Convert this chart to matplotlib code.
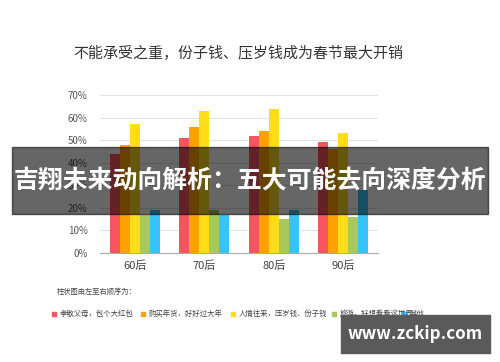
import matplotlib
matplotlib.use("Agg")
import matplotlib.pyplot as plt
from matplotlib.patches import Rectangle
import numpy as np

plt.rcParams['font.family'] = ['Noto Sans CJK SC', 'DejaVu Sans']

groups = ['60后', '70后', '80后', '90后']
series_names = ['孝敬父母，包个大红包', '购买年货，好好过大年', '人情往来，压岁钱、份子钱',
                '旅游，好想看看这世界', '其他']
values = {
    '孝敬父母，包个大红包': [44, 51, 52, 49],
    '购买年货，好好过大年': [48, 56, 54, 46],
    '人情往来，压岁钱、份子钱': [57, 63, 64, 53],
    '旅游，好想看看这世界': [17, 19, 15, 16],
    '其他': [19, 17, 19, 28],
}
colors = ['#F5555F', '#FFA200', '#FFDD1B', '#A8C85A', '#38C3F8']
yticks = [0, 10, 20, 30, 40, 50, 60, 70]

fig = plt.figure(figsize=(5, 3.62), dpi=100)
ax = fig.add_axes([0.2, 0.301, 0.556, 0.4365])

x = np.arange(len(groups))
w = 0.144
for i, name in enumerate(series_names):
    ax.bar(x + (i - 2) * w, values[name], width=w, color=colors[i], zorder=3)

ax.set_xlim(-0.5, 3.5)
ax.set_ylim(0, 70)
ax.set_yticks(yticks)
ax.set_yticklabels([f'{v}%' for v in yticks], fontsize=7, color='#555555')
ax.set_xticks(x)
ax.set_xticklabels(groups, fontsize=8, color='#444444')
ax.tick_params(axis='both', length=0)
ax.tick_params(axis='y', pad=9)
ax.tick_params(axis='x', pad=5)
ax.grid(axis='y', color='#e2e2e2', linewidth=0.8, zorder=0)
for s in ['top', 'right', 'left']:
    ax.spines[s].set_visible(False)
ax.spines['bottom'].set_color('#aaaaaa')
ax.spines['bottom'].set_zorder(4)

fig.text(73/500, 1 - 53/362, '不能承受之重，份子钱、压岁钱成为春节最大开销', fontsize=10.8,
         color='#333333', va='center', ha='left')

fig.text(57/500, 1 - 292/362, '柱状图由左至右顺序为：', fontsize=5.2, color='#444444',
         va='center', ha='left')

leg_x = [52, 141, 231, 332, 402]
for i, name in enumerate(series_names):
    fig.patches.append(Rectangle((leg_x[i] / 500, 1 - 316/362), 4/500, 4/362,
                                 transform=fig.transFigure, color=colors[i]))
    fig.text((leg_x[i] + 8) / 500, 1 - 314/362, name, fontsize=5.3, color='#444444',
             va='center', ha='left')

# overlay banner
fig.patches.append(Rectangle((12/500, 1 - 214/362), 476/500, 67/362,
                             transform=fig.transFigure, color='#000000', alpha=0.6, zorder=10))
fig.text(250/500, 1 - 181/362, '吉翔未来动向解析：五大可能去向深度分析', fontsize=17.9,
         color='white', fontweight='bold', va='center', ha='center', zorder=11)

# watermark box
fig.patches.append(Rectangle((341/500, 1 - 353/362), 149/500, 38/362,
                             transform=fig.transFigure, color='#5a5a5a', zorder=10))
fig.text(415/500, 1 - 334/362, 'www.zckip.com', fontsize=12.2, color='white',
         fontweight='bold', va='center', ha='center', zorder=11)

fig.savefig('out.png', dpi=100)
